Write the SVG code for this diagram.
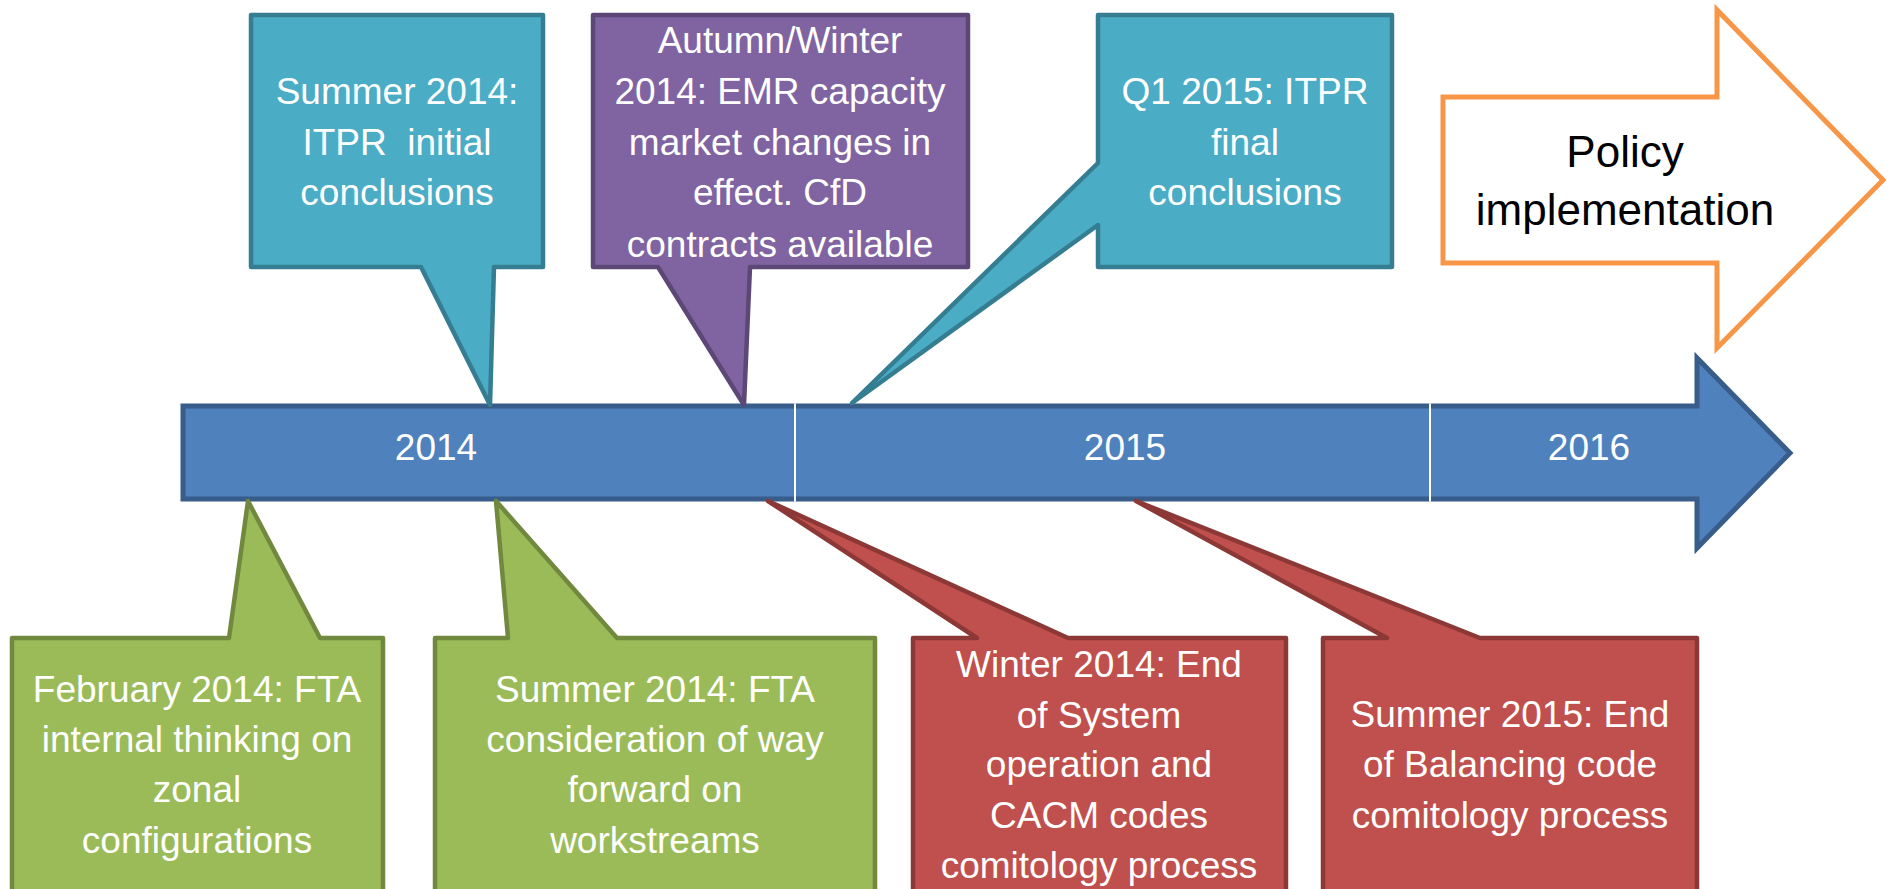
<svg xmlns="http://www.w3.org/2000/svg" width="1889" height="889" viewBox="0 0 1889 889">
<style>
.t{font-family:"Liberation Sans",Arial,sans-serif;font-size:37px;fill:#ffffff;text-anchor:middle}
.k{font-family:"Liberation Sans",Arial,sans-serif;font-size:44px;fill:#000000;text-anchor:middle}
.co{stroke-width:4.5;stroke-linejoin:round}
.teal{fill:#4bacc6;stroke:#357d91}
.purple{fill:#8064a2;stroke:#5c4776}
.green{fill:#9bbb59;stroke:#71893f}
.red{fill:#c0504d;stroke:#8c3836}
</style>
<rect width="1889" height="889" fill="#ffffff"/>
<g id="timeline">
<path d="M183,406 H1697 V358 L1790,453 L1697,548 V499 H183 Z" fill="#4f81bd" stroke="#385d8a" stroke-width="5" stroke-linejoin="miter"/>
<line x1="795" y1="403.5" x2="795" y2="501.5" stroke="#ffffff" stroke-width="2"/>
<line x1="1430" y1="403.5" x2="1430" y2="501.5" stroke="#ffffff" stroke-width="2"/>
<text class="t" x="436" y="460">2014</text>
<text class="t" x="1125" y="460">2015</text>
<text class="t" x="1589" y="460">2016</text>
</g>
<g id="policy">
<path d="M1443,97 H1717 V10 L1883,180 L1717,348 V263 H1443 Z" fill="#ffffff" stroke="#f79646" stroke-width="5" stroke-linejoin="miter"/>
<text class="k" x="1625" y="167">Policy</text>
<text class="k" x="1625" y="225">implementation</text>
</g>
<g id="summer2014-itpr">
<path class="co teal" d="M251,15 H543 V267 H494 L490,405 L421,267 H251 Z"/>
<text class="t" x="397" y="104">Summer 2014:</text>
<text class="t" x="397" y="155" xml:space="preserve">ITPR  initial</text>
<text class="t" x="397" y="205">conclusions</text>
</g>
<g id="autumn-winter-2014">
<path class="co purple" d="M593,15 H968 V267 H750 L744,405 L658,267 H593 Z"/>
<text class="t" x="780" y="53">Autumn/Winter</text>
<text class="t" x="780" y="104">2014: EMR capacity</text>
<text class="t" x="780" y="155">market changes in</text>
<text class="t" x="780" y="205">effect. CfD</text>
<text class="t" x="780" y="257">contracts available</text>
</g>
<g id="q1-2015-itpr">
<path class="co teal" d="M1098,15 H1392 V267 H1098 V225 L852,403 L1098,163 Z"/>
<text class="t" x="1245" y="104">Q1 2015: ITPR</text>
<text class="t" x="1245" y="155">final</text>
<text class="t" x="1245" y="205">conclusions</text>
</g>
<g id="february-2014-fta">
<path class="co green" d="M12,638 H229 L248,501 L320,638 H383 V895 H12 Z"/>
<text class="t" x="197" y="702">February 2014: FTA</text>
<text class="t" x="197" y="752">internal thinking on</text>
<text class="t" x="197" y="802">zonal</text>
<text class="t" x="197" y="853">configurations</text>
</g>
<g id="summer-2014-fta">
<path class="co green" d="M435,638 H508 L496,501 L617,638 H875 V895 H435 Z"/>
<text class="t" x="655" y="702">Summer 2014: FTA</text>
<text class="t" x="655" y="752">consideration of way</text>
<text class="t" x="655" y="802">forward on</text>
<text class="t" x="655" y="853">workstreams</text>
</g>
<g id="winter-2014-end">
<path class="co red" d="M913,638 H977 L768,501 L1068,638 H1286 V895 H913 Z"/>
<text class="t" x="1099" y="677">Winter 2014: End</text>
<text class="t" x="1099" y="728">of System</text>
<text class="t" x="1099" y="777">operation and</text>
<text class="t" x="1099" y="828">CACM codes</text>
<text class="t" x="1099" y="878">comitology process</text>
</g>
<g id="summer-2015-end">
<path class="co red" d="M1323,638 H1387 L1136,501 L1480,638 H1697 V895 H1323 Z"/>
<text class="t" x="1510" y="727">Summer 2015: End</text>
<text class="t" x="1510" y="777">of Balancing code</text>
<text class="t" x="1510" y="828">comitology process</text>
</g>
</svg>
